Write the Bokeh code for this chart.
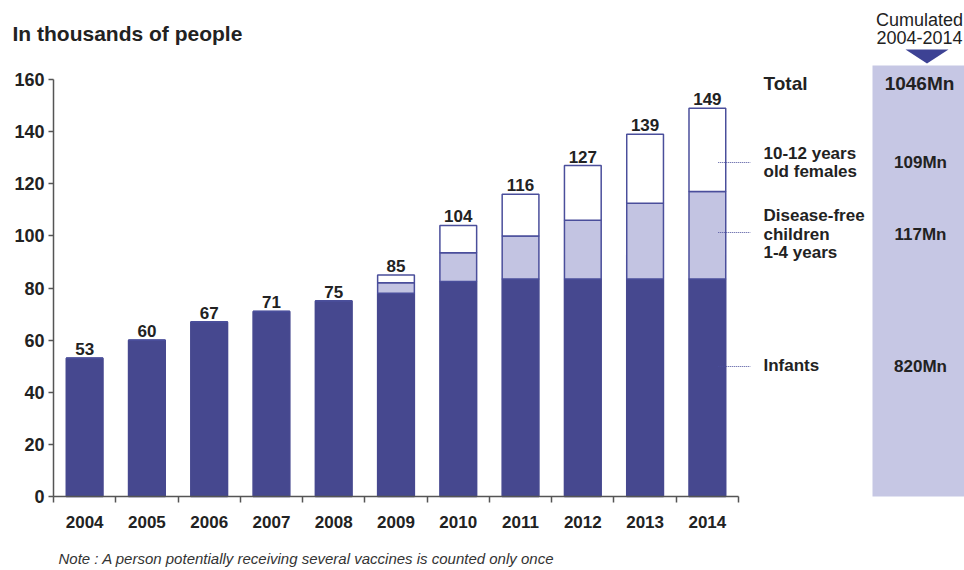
from bokeh.plotting import figure
from bokeh.models import Range1d, FixedTicker, ColumnDataSource, Label, LinearAxis
from bokeh.core.properties import value
from bokeh.embed import file_html
from bokeh.resources import INLINE

# ---- data ----
years = ["2004", "2005", "2006", "2007", "2008", "2009", "2010", "2011", "2012", "2013", "2014"]
infants = [53, 60, 67, 71, 75, 78, 82.5, 83.5, 83.5, 83.5, 83.5]
children = [0, 0, 0, 0, 0, 4, 11, 16.5, 22.5, 29, 33.5]
females = [0, 0, 0, 0, 0, 3, 10.5, 16, 21, 26.5, 32]
totals = [53, 60, 67, 71, 75, 85, 104, 116, 127, 139, 149]
y_ticks = [0, 20, 40, 60, 80, 100, 120, 140, 160]
series_names = [["10-12 years", "old females"], ["Disease-free", "children", "1-4 years"], ["Infants"]]
cumulated = ["109Mn", "117Mn", "820Mn"]
cumulated_total = "1046Mn"

FONT = "Liberation Sans"
DARK = "#46488f"
LIGHT = "#c3c4e2"
EDGE = "#4a4e9b"
TXT = "#222222"
AX = "#555555"

# chart-area geometry (pixels) used to set the ranges
FL, FR, FT, FB = 53, 738, 79, 496
W, H = 964, 570
PX_PER_Y = (FB - FT) / 160.0
PX_PER_X = (FR - FL) / 11.0

def dy(py):
    return (FB - py) / PX_PER_Y

def dx(px):
    return (px - FL) / PX_PER_X - 0.5

idx = list(range(len(years)))
src = ColumnDataSource(dict(x=idx, infants=infants, children=children, females=females,
                            totals=totals, tl=[str(t) for t in totals]))

p = figure(width=W, height=H, x_range=Range1d(dx(0), dx(W)), y_range=Range1d(dy(H), dy(0)),
           toolbar_location=None, output_backend="svg", x_axis_type=None, y_axis_type=None,
           min_border=0, min_border_left=0, min_border_right=0, min_border_top=0, min_border_bottom=0)
p.outline_line_color = None
p.background_fill_color = "white"
p.border_fill_color = "white"

# right-hand cumulated panel (background)
p.quad(left=[dx(872)], right=[dx(W)], bottom=[0], top=[dy(65)], fill_color="#c6c7e4", line_color=None)
p.patch(x=[dx(905), dx(948), dx(926.5)], y=[dy(49), dy(49), dy(63)], fill_color="#3d4294", line_color=None)

p.vbar_stack(["infants", "children", "females"], x="x", width=0.59, source=src,
             fill_color=[DARK, LIGHT, "#ffffff"], line_color=[DARK, EDGE, EDGE], line_width=1.5)

p.text(x="x", y="totals", text="tl", source=src, text_align="center", text_baseline="bottom",
       y_offset=-3, text_font=value(FONT), text_font_style="bold", text_font_size="17px",
       text_color=TXT)

# x axis: labels at centres, ticks at boundaries
xa = LinearAxis(fixed_location=0, bounds=(-0.5, 10.5))
xa.ticker = FixedTicker(ticks=idx, minor_ticks=[i - 0.5 for i in range(len(years) + 1)])
xa.major_label_overrides = {i: y for i, y in enumerate(years)}
xa.major_tick_line_color = None
xa.major_tick_out = 0
xa.major_tick_in = 0
xa.minor_tick_out = 6
xa.minor_tick_in = 0
xa.minor_tick_line_color = AX
xa.minor_tick_line_width = 1.5
xa.axis_line_color = AX
xa.axis_line_width = 1.5
xa.major_label_standoff = 13
xa.major_label_text_font = FONT
xa.major_label_text_font_style = "bold"
xa.major_label_text_font_size = "17px"
xa.major_label_text_color = TXT
p.add_layout(xa, "below")

ya = LinearAxis(fixed_location=-0.5, bounds=(0, 160))
ya.ticker = FixedTicker(ticks=y_ticks)
ya.major_tick_out = 5
ya.major_tick_in = 0
ya.major_tick_line_color = AX
ya.major_tick_line_width = 1.5
ya.minor_tick_line_color = None
ya.axis_line_color = AX
ya.axis_line_width = 1.5
ya.major_label_standoff = 4
ya.major_label_text_font = FONT
ya.major_label_text_font_style = "bold"
ya.major_label_text_font_size = "18px"
ya.major_label_text_color = TXT
p.add_layout(ya, "left")

# leader lines
lead_y = [dy(162), dy(232), dy(366)]
p.segment(x0=[10 + 0.295 - 0.12] * 3, y0=lead_y, x1=[dx(750)] * 3, y1=lead_y,
          line_color=EDGE, line_dash="1 1", line_width=1.2)

def txt(px, py, t, size, style="bold", align="left", color=TXT):
    p.add_layout(Label(x=dx(px), y=dy(py), text=t, text_font=FONT, text_font_style=style,
                       text_font_size=size, text_color=color, text_baseline="middle", text_align=align))

txt(12, 33, "In thousands of people", "21px")
txt(58, 558, "Note : A person potentially receiving several vaccines is counted only once",
    "15px", style="italic", color="#333333")

txt(919, 19, "Cumulated", "18px", style="normal", align="center")
txt(919, 37, "2004-2014", "18px", style="normal", align="center")
txt(763, 83, "Total", "19px")
txt(919, 83, cumulated_total, "19px", align="center")

line_pos = [[153, 171], [215, 234, 252], [365]]
for names, pys in zip(series_names, line_pos):
    for n, py in zip(names, pys):
        txt(763, py, n, "17px")
for v, py in zip(cumulated, [162, 234, 366]):
    txt(920, py, v, "17px", align="center")

open("out.html", "w").write(file_html(p, INLINE))
